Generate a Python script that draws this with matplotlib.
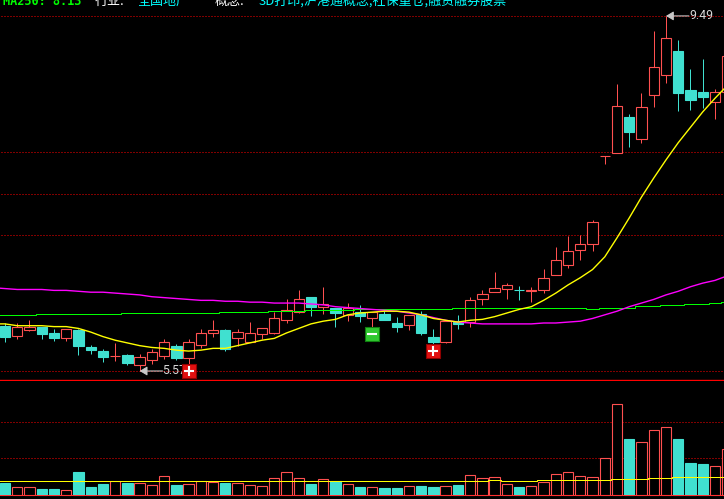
import matplotlib
matplotlib.use("Agg")
import matplotlib.pyplot as plt
import numpy as np

plt.rcParams['font.family'] = ['Noto Sans CJK SC', 'DejaVu Sans']

# price data: body top, body bottom, high, low, and rising flag
body_top = [6.07,6.06,6.06,6.06,5.99,6.03,6.02,5.84,5.79,5.74,5.75,5.73,5.78,5.89,5.85,5.89,5.99,6.02,6.02,6.00,
            5.99,6.04,6.16,6.24,6.36,6.39,6.31,6.27,6.27,6.22,6.22,6.20,6.10,6.19,6.20,5.95,6.12,6.12,6.35,6.42,
            6.49,6.52,6.46,6.46,6.60,6.79,6.89,6.97,7.22,7.94,8.50,8.37,8.48,8.93,9.25,9.10,8.67,8.65,8.65,9.05]
body_bot = [5.94,5.96,6.02,5.98,5.93,5.93,5.85,5.80,5.72,5.74,5.66,5.64,5.69,5.74,5.71,5.71,5.86,5.99,5.81,5.93,
            5.89,5.98,5.99,6.13,6.22,6.28,6.28,6.21,6.19,6.18,6.16,6.13,6.06,6.08,5.99,5.89,5.89,6.09,6.11,6.36,
            6.44,6.48,6.46,6.45,6.46,6.63,6.74,6.91,6.97,7.94,7.98,8.21,8.13,8.62,8.84,8.64,8.56,8.59,8.54,8.65]
high = [6.10,6.10,6.13,6.06,6.03,6.03,6.03,5.86,5.81,5.88,5.76,5.76,5.81,5.92,5.87,5.92,6.03,6.13,6.03,6.03,
        6.11,6.05,6.22,6.36,6.46,6.39,6.50,6.27,6.32,6.30,6.22,6.24,6.17,6.19,6.23,6.03,6.12,6.19,6.39,6.46,
        6.66,6.54,6.51,6.50,6.70,6.94,7.06,7.07,7.24,7.94,8.74,8.41,8.64,9.32,9.49,9.22,8.90,9.01,8.68,9.05]
low = [5.89,5.92,6.01,5.92,5.90,5.90,5.75,5.76,5.67,5.68,5.64,5.57,5.65,5.70,5.69,5.64,5.82,5.95,5.79,5.85,
       5.89,5.92,5.98,6.10,6.21,6.18,6.20,6.06,6.12,6.11,6.06,6.13,6.00,6.02,5.97,5.86,5.88,6.03,6.06,6.30,
       6.44,6.36,6.35,6.33,6.43,6.63,6.71,6.80,6.89,7.85,7.98,8.04,8.09,8.48,8.75,8.44,8.45,8.47,8.35,8.65]
rising = [0,1,1,0,0,1,0,0,0,1,0,1,1,1,0,1,1,1,0,1,
          1,1,1,1,1,0,1,0,1,0,1,0,0,1,0,0,1,0,1,1,
          1,1,0,1,1,1,1,1,1,1,1,0,1,1,1,0,0,0,1,1]

# moving averages; the first value belongs to the session just left of the visible window
ma_yellow = [6.09,6.09,6.07,6.07,6.07,6.06,6.06,6.04,6.00,5.95,5.91,5.88,5.85,5.83,5.82,5.80,5.79,5.80,5.82,5.82,5.85,
             5.88,5.91,5.93,5.99,6.04,6.09,6.12,6.14,6.19,6.21,6.22,6.23,6.23,6.22,6.19,6.15,6.13,6.11,6.13,6.14,
             6.17,6.21,6.25,6.28,6.35,6.43,6.52,6.60,6.69,6.83,7.04,7.26,7.49,7.70,7.90,8.09,8.26,8.43,8.58,8.72]
ma_magenta = [6.49,6.48,6.47,6.47,6.47,6.46,6.46,6.45,6.44,6.44,6.43,6.42,6.41,6.39,6.38,6.37,6.36,6.35,6.35,6.34,6.34,
              6.33,6.33,6.32,6.32,6.32,6.31,6.30,6.28,6.27,6.26,6.25,6.24,6.23,6.21,6.19,6.16,6.13,6.11,6.10,6.09,
              6.09,6.09,6.09,6.09,6.10,6.10,6.11,6.12,6.15,6.19,6.23,6.28,6.32,6.36,6.41,6.45,6.50,6.54,6.57,6.62]
ma_green = [6.19,6.19,6.19,6.19,6.20,6.20,6.20,6.20,6.20,6.20,6.20,6.21,6.21,6.21,6.21,6.21,6.21,6.21,6.21,6.22,6.22,
            6.22,6.22,6.23,6.23,6.23,6.24,6.24,6.24,6.24,6.25,6.25,6.25,6.25,6.25,6.25,6.25,6.25,6.26,6.26,6.26,
            6.26,6.27,6.27,6.27,6.26,6.26,6.26,6.26,6.25,6.26,6.26,6.27,6.29,6.29,6.30,6.30,6.31,6.31,6.32,6.33]

volume = [370,240,240,190,190,150,700,250,340,420,370,360,300,570,310,340,420,400,370,360,
          300,270,510,690,510,340,480,420,330,250,240,220,220,270,280,250,270,310,600,510,
          540,330,250,270,390,630,690,570,540,1110,2730,1690,1590,1950,2040,1690,970,940,870,1380]
vol_ma = [420]*41 + [450,420,420,420] + [450]*6 + [480]*3 + [510]*2 + [540]*5

price_grid = [9.49, 7.984, 7.52, 7.068, 5.57]
vol_grid = [2190, 1110]
solid_price_line = 5.466

plus_idx, plus_price = [15, 35], [5.57, 5.79]
minus_idx, minus_price = [30], [5.98]

hi_idx, hi_val, lo_idx, lo_val = 54, 9.49, 11, 5.57

header = [(3, "MA250: 8.13", "#00ff00"), (95, "行业:", "#ffffff"), (138, "全国地产", "#00ffff"),
          (215, "概念:", "#ffffff"), (259, "3D打印,沪港通概念,社保重仓,融资融券股票", "#00ffff")]

RED = "#ff5050"
TEAL = "#40e0d0"
W, H = 724, 499
X_STEP, X0 = 12.24, 5.0
xlim = (-X0 / X_STEP, (W - X0) / X_STEP)
PX = 0.72

fig = plt.figure(figsize=(W / 100, H / 100), dpi=100, facecolor="black")
ax = fig.add_axes([0, (H - 381) / H, 1, 381 / H], facecolor="black")
vx = fig.add_axes([0, 0, 1, (H - 381) / H], facecolor="black")
for a in (ax, vx):
    a.set_axis_off()
    a.set_xlim(*xlim)
ax.set_ylim(5.4596, 9.6658)
vx.set_ylim(-111, 3429)

x = np.arange(len(high))
x_ma = np.arange(-1, len(high))
top, bot, hi, lo, up = map(np.array, (body_top, body_bot, high, low, rising))
up = up.astype(bool)
colors = np.where(up, RED, TEAL)
faces = np.where(up, "black", TEAL)

dots = dict(color="#ff0000", lw=PX, linestyle=(2, (1, 2)), dash_capstyle="butt", snap=True)
for p in price_grid:
    ax.axhline(p, zorder=1, **dots)
for v in vol_grid:
    vx.axhline(v, zorder=1, **dots)

ax.vlines(x, lo, hi, colors=colors, lw=PX, zorder=2, snap=True)
ax.bar(x, top - bot, bottom=bot, width=0.84, color=faces, edgecolor=colors, lw=PX * 1.1, zorder=3)

ax.plot(x_ma, ma_green, color="#00ff00", lw=PX, zorder=4, drawstyle="steps-mid", snap=True)
ax.plot(x_ma, ma_magenta, color="#ff00ff", lw=1.0, zorder=5)
ax.plot(x_ma, ma_yellow, color="#ffff00", lw=1.0, zorder=6)

vol = np.array(volume)
vx.bar(x, vol, width=0.84, color=faces, edgecolor=colors, lw=PX * 1.1, zorder=3)
vx.plot(x_ma, vol_ma, color="#ffff00", lw=PX, zorder=5, drawstyle="steps-mid", snap=True)
vx.axhline(0, color="#ff3030", lw=PX, zorder=6, snap=True)
ax.axhline(solid_price_line, color="#ff0000", lw=1.0, zorder=6, snap=True)


def extreme(i, val, label):
    ax.annotate("", xy=(i, val), xytext=(16.5, 0), textcoords="offset points",
                arrowprops=dict(arrowstyle="-|>,head_length=0.45,head_width=0.27", color="#c8c8c8",
                                lw=0.8, shrinkA=0, shrinkB=0), zorder=7)
    ax.annotate(label, xy=(i, val), xytext=(16.5, 0), textcoords="offset points", color="#d8d8d8",
                va="center", ha="left", fontsize=8.8, family="Roboto", zorder=7)


extreme(hi_idx, hi_val, "9.49")
extreme(lo_idx, lo_val, "5.57")

ax.scatter(plus_idx, plus_price, marker="s", s=88, color="#e01010", edgecolor="#900000", lw=0.8, zorder=8)
ax.scatter(plus_idx, plus_price, marker="+", s=42, color="white", lw=1.5, zorder=9)
ax.scatter(minus_idx, minus_price, marker="s", s=88, color="#30c830", edgecolor="#108010", lw=0.8, zorder=8)
ax.scatter(minus_idx, minus_price, marker="_", s=42, color="white", lw=1.5, zorder=9)

for px, txt, col in header:
    mono = txt.startswith("MA")
    fig.text(px / W, 1 - 5 / H, txt, color=col, va="baseline", ha="left", zorder=10,
             fontsize=8.6 if mono else 9.4, fontweight="bold" if mono else "normal",
             family="DejaVu Sans Mono" if mono else ["Noto Sans CJK SC", "DejaVu Sans"])

fig.savefig("out.png", dpi=100, facecolor="black")
